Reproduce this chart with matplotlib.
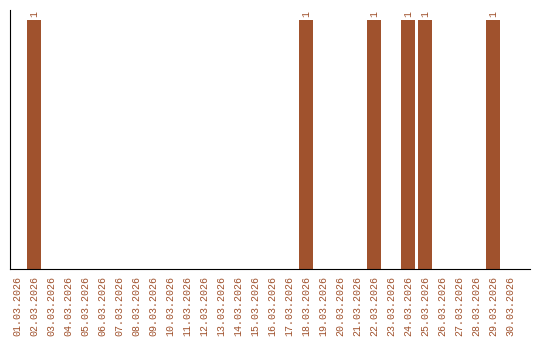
import matplotlib
matplotlib.use("Agg")
import matplotlib.pyplot as plt

dates = ["%02d.03.2026" % d for d in range(1, 31)]
counts = [0, 1, 0, 0, 0, 0, 0, 0, 0, 0, 0, 0, 0, 0, 0, 0, 0, 1, 0, 0, 0, 1, 0, 1, 1, 0, 0, 0, 1, 0]

color = "#A0522D"
plt.rcParams["font.family"] = ["Liberation Mono", "DejaVu Sans Mono"]

fig = plt.figure(figsize=(5.4, 3.4), dpi=100)
ax = fig.add_axes([10 / 540, 71 / 340, 520 / 540, 259 / 340])

x = range(len(dates))
ax.bar(x, counts, width=0.82, color=color)
for i, c in enumerate(counts):
    if c > 0:
        ax.text(i, c + 0.01, str(c), rotation=90, ha="center", va="bottom",
                fontsize=7, color=color)

ax.set_xlim(-0.41, len(dates) + 0.18)
ax.set_ylim(0, 1.04)
ax.set_xticks(list(x))
ax.set_xticklabels(dates, rotation=90, fontsize=7.2, color=color)
ax.tick_params(axis="x", length=0, pad=5)
ax.set_yticks([])
ax.spines["top"].set_visible(False)
ax.spines["right"].set_visible(False)

fig.savefig("out.png", dpi=100)
